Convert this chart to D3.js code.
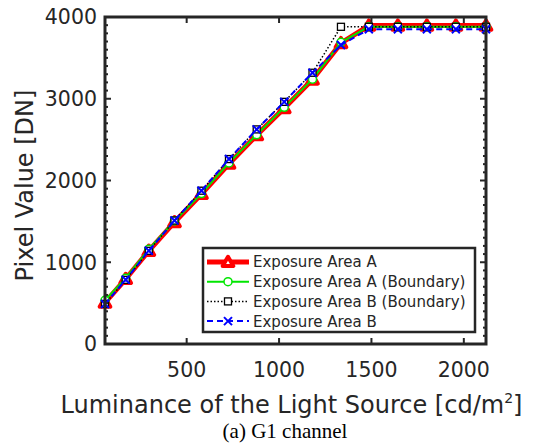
<!DOCTYPE html>
<html>
<head>
<meta charset="utf-8">
<script src="https://cdn.jsdelivr.net/npm/d3@7"></script>
<style>
  body { margin: 0; background: #fff; }
  svg { display: block; }
</style>
</head>
<body>
<div id="chart"></div>
<script>
// luminance of the light source [cd/m2]
var luminance = [58, 170, 295, 434, 580, 729, 879, 1028, 1181, 1335, 1486, 1643, 1800, 1957, 2120];

// pixel values [DN]
var areaA         = [505, 795, 1140, 1490, 1835, 2205, 2555, 2885, 3235, 3680, 3895, 3895, 3895, 3895, 3895];
var areaABoundary = [535, 805, 1160, 1505, 1840, 2215, 2560, 2895, 3240, 3690, 3882, 3882, 3882, 3882, 3882];
var areaBBoundary = [490, 785, 1140, 1510, 1875, 2262, 2625, 2962, 3318, 3880, 3880, 3880, 3880, 3880, 3880];
var areaB         = [490, 785, 1140, 1510, 1875, 2262, 2625, 2962, 3318, 3657, 3850, 3850, 3850, 3850, 3850];

var seriesNames = ["Exposure Area A", "Exposure Area A (Boundary)", "Exposure Area B (Boundary)", "Exposure Area B"];
var xTicks = [500, 1000, 1500, 2000];
var yTicks = [0, 1000, 2000, 3000, 4000];

var W = 540, H = 446;
var margin = {top: 17, right: 54, bottom: 102, left: 105};
var axisColor = "#262626";
var labelFont = "'DejaVu Sans', sans-serif";

var svg = d3.select("#chart").append("svg")
    .attr("width", W)
    .attr("height", H);

var x = d3.scaleLinear().domain([58, 2120]).range([margin.left, W - margin.right]);
var y = d3.scaleLinear().domain([0, 4000]).range([H - margin.bottom, margin.top]);

var x0 = x.range()[0], x1 = x.range()[1];
var y0 = y.range()[0], y1 = y.range()[1];

// series styles, in drawing order
var series = [
    {name: seriesNames[0], values: areaA, color: "#ff0000", width: 5, dash: null, marker: "triangle"},
    {name: seriesNames[1], values: areaABoundary, color: "#00e600", width: 2, dash: null, marker: "circle"},
    {name: seriesNames[2], values: areaBBoundary, color: "#000000", width: 1.5, dash: "1.5,2", marker: "square"},
    {name: seriesNames[3], values: areaB, color: "#0000ff", width: 2, dash: "6,4", marker: "cross"}
];

var line = d3.line()
    .x(function(d) { return x(d[0]); })
    .y(function(d) { return y(d[1]); });

function drawMarker(g, type, color, px, py) {
    if (type === "triangle") {
        g.append("path")
            .attr("d", d3.symbol().type(d3.symbolTriangle).size(50)())
            .attr("transform", "translate(" + px + "," + (py + 1) + ")")
            .attr("fill", "#fff")
            .attr("stroke", color)
            .attr("stroke-width", 4)
            .attr("stroke-linejoin", "round");
    } else if (type === "circle") {
        g.append("circle")
            .attr("cx", px).attr("cy", py).attr("r", 4)
            .attr("fill", "#fff")
            .attr("stroke", color)
            .attr("stroke-width", 1.5);
    } else if (type === "square") {
        g.append("rect")
            .attr("x", px - 3.5).attr("y", py - 3.5)
            .attr("width", 7).attr("height", 7)
            .attr("fill", "#fff")
            .attr("stroke", color)
            .attr("stroke-width", 1.3);
    } else if (type === "cross") {
        g.append("path")
            .attr("d", "M" + (px - 4) + "," + (py - 4) + "L" + (px + 4) + "," + (py + 4) +
                       "M" + (px - 4) + "," + (py + 4) + "L" + (px + 4) + "," + (py - 4))
            .attr("stroke", color)
            .attr("stroke-width", 2)
            .attr("fill", "none");
    }
}

// plot lines and markers
series.forEach(function(s) {
    var pts = luminance.map(function(l, i) { return [l, s.values[i]]; });
    var g = svg.append("g");
    g.append("path")
        .datum(pts)
        .attr("d", line)
        .attr("fill", "none")
        .attr("stroke", s.color)
        .attr("stroke-width", s.width)
        .attr("stroke-dasharray", s.dash)
        .attr("stroke-linejoin", "round");
    pts.forEach(function(p) {
        drawMarker(g, s.marker, s.color, x(p[0]), y(p[1]));
    });
});

// axes box with inward ticks
var axes = svg.append("g");
var minorY = d3.range(0, 4001, 100);
minorY.forEach(function(v) {
    var len = (v % 1000 === 0) ? 6 : 3;
    axes.append("line").attr("x1", x0).attr("x2", x0 + len).attr("y1", y(v)).attr("y2", y(v))
        .attr("stroke", axisColor).attr("stroke-width", 2);
    axes.append("line").attr("x1", x1).attr("x2", x1 - len).attr("y1", y(v)).attr("y2", y(v))
        .attr("stroke", axisColor).attr("stroke-width", 2);
});
xTicks.forEach(function(v) {
    axes.append("line").attr("x1", x(v)).attr("x2", x(v)).attr("y1", y0).attr("y2", y0 - 6)
        .attr("stroke", axisColor).attr("stroke-width", 2);
    axes.append("line").attr("x1", x(v)).attr("x2", x(v)).attr("y1", y1).attr("y2", y1 + 6)
        .attr("stroke", axisColor).attr("stroke-width", 2);
});
axes.append("rect")
    .attr("x", x0).attr("y", y1)
    .attr("width", x1 - x0).attr("height", y0 - y1)
    .attr("fill", "none")
    .attr("stroke", axisColor)
    .attr("stroke-width", 3);

// tick labels
svg.append("g").selectAll("text")
    .data(yTicks)
    .enter().append("text")
    .attr("x", x0 - 8)
    .attr("y", function(d) { return y(d); })
    .attr("dy", "0.36em")
    .attr("text-anchor", "end")
    .style("font-family", labelFont)
    .style("font-size", "20.5px")
    .attr("fill", axisColor)
    .text(function(d) { return d; });

svg.append("g").selectAll("text")
    .data(xTicks)
    .enter().append("text")
    .attr("x", function(d) { return x(d); })
    .attr("y", y0 + 33)
    .attr("text-anchor", "middle")
    .style("font-family", labelFont)
    .style("font-size", "20.5px")
    .attr("fill", axisColor)
    .text(function(d) { return d; });

// axis titles
var xTitle = svg.append("text")
    .attr("x", (x0 + x1) / 2 - 4)
    .attr("y", 413)
    .attr("text-anchor", "middle")
    .style("font-family", labelFont)
    .style("font-size", "24px")
    .attr("fill", axisColor);
xTitle.append("tspan").text("Luminance of the Light Source [cd/m");
xTitle.append("tspan").attr("dy", -10).style("font-size", "14px").text("2");
xTitle.append("tspan").attr("dy", 10).text("]");

svg.append("text")
    .attr("transform", "translate(33," + ((y0 + y1) / 2 + 5) + ") rotate(-90)")
    .attr("text-anchor", "middle")
    .style("font-family", labelFont)
    .style("font-size", "24px")
    .attr("fill", axisColor)
    .text("Pixel Value [DN]");

// legend
var legend = svg.append("g");
legend.append("rect")
    .attr("x", 203).attr("y", 248)
    .attr("width", 272).attr("height", 84)
    .attr("fill", "#fff")
    .attr("stroke", axisColor)
    .attr("stroke-width", 2.5);

series.forEach(function(s, i) {
    var ly = 262 + i * 19.7;
    legend.append("line")
        .attr("x1", 207).attr("x2", 249)
        .attr("y1", ly).attr("y2", ly)
        .attr("stroke", s.color)
        .attr("stroke-width", s.width)
        .attr("stroke-dasharray", s.dash);
    drawMarker(legend, s.marker, s.color, 228, ly);
    legend.append("text")
        .attr("x", 253)
        .attr("y", ly)
        .attr("dy", "0.36em")
        .style("font-family", labelFont)
        .style("font-size", "15px")
        .attr("fill", axisColor)
        .text(s.name);
});

// caption
svg.append("text")
    .attr("x", 285)
    .attr("y", 438)
    .attr("text-anchor", "middle")
    .style("font-family", "'Liberation Serif', 'Times New Roman', serif")
    .style("font-size", "21px")
    .attr("fill", "#000")
    .text("(a) G1 channel");
</script>
</body>
</html>
